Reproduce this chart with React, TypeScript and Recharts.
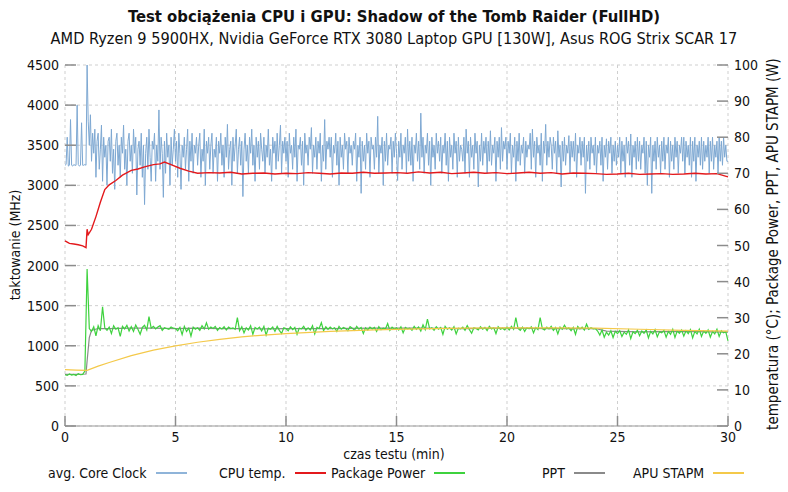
import React from 'react';
import { LineChart, Line, XAxis, YAxis, CartesianGrid } from 'recharts';

// avg. Core Clock (MHz), one sample every 0.05 min (20 per row = 1 min)
const coreClock: number[] = [
  3250, 3260, 3600, 3240, 3250, 3820, 3250, 3240, 3260, 3250, 3250, 4000, 3260, 3240, 3250, 3780, 3250, 3250, 3260, 3250,
  4500, 3800, 3500, 3880, 3300, 3650, 3400, 3700, 3100, 3550, 3650, 3200, 3450, 3750, 3050, 3600, 3350, 3500, 3000, 3550,
  3600, 3300, 3700, 3150, 3450, 2950, 3550, 3650, 3250, 3500, 3100, 3600, 3400, 3750, 3200, 3450, 3000, 3550, 3650, 3300,
  3500, 3150, 3700, 3400, 3600, 2880, 3450, 3550, 3250, 3650, 3100, 3500, 2760, 3400, 3600, 3200, 3700, 3350, 3050, 3550,
  3450, 3650, 3050, 3500, 3300, 3940, 3200, 3600, 3400, 2850, 3550, 3150, 3650, 3350, 3500, 3000, 3600, 3250, 3450, 3700,
  3300, 3550, 3100, 3650, 3400, 2950, 3500, 3350, 3600, 3200, 3450, 3700, 3050, 3550, 3300, 3650, 3150, 3500, 3400, 3600,
  3250, 3500, 3650, 3100, 3450, 3300, 3700, 3000, 3550, 3400, 3600, 3200, 3500, 3650, 3150, 3450, 3350, 3600, 3050, 3550,
  3400, 3650, 3250, 3500, 3100, 3600, 3350, 3760, 3200, 3450, 3550, 3000, 3600, 3300, 3500, 3700, 3150, 3450, 3600, 3250,
  3550, 2860, 3450, 3650, 3300, 3500, 3150, 3600, 3400, 3700, 3250, 3500, 3050, 3600, 3350, 3550, 3200, 3650, 3450, 3300,
  3600, 3150, 3500, 3350, 3700, 3250, 3450, 3050, 3600, 3400, 3550, 3200, 3650, 3300, 3500, 3750, 3150, 3550, 3400, 3600,
  3300, 3550, 3100, 3650, 3400, 3500, 3200, 3600, 3350, 3700, 3050, 3500, 3450, 3600, 3250, 3550, 3000, 3650, 3400, 3500,
  3250, 3600, 3450, 3720, 3150, 3500, 3350, 3600, 3200, 3550, 3400, 3650, 3050, 3500, 3300, 3820, 3200, 3550, 3450, 3600,
  3350, 3600, 3100, 3500, 3400, 3650, 3250, 3550, 3000, 3600, 3350, 3500, 3200, 3650, 3450, 3550, 3150, 3600, 3400, 3500,
  3250, 3550, 3450, 3650, 3050, 3500, 3350, 3600, 2900, 3550, 3300, 3500, 3200, 3650, 3400, 3550, 3100, 3600, 3450, 3500,
  3200, 3600, 3350, 3860, 3150, 3500, 3400, 3600, 3000, 3550, 3300, 3650, 3250, 3500, 3450, 3600, 3150, 3550, 3350, 3650,
  3400, 3060, 3550, 3350, 3650, 3200, 3500, 3400, 3600, 3150, 3700, 3300, 3550, 3250, 3600, 3050, 3500, 3400, 3650, 3300,
  3550, 3200, 3900, 3350, 3600, 3150, 3500, 3400, 3650, 3250, 3550, 3000, 3600, 3350, 3500, 3200, 3650, 3400, 3550, 3300,
  3600, 3150, 3500, 3400, 3650, 3250, 3550, 3050, 3600, 3350, 3500, 3200, 3650, 3400, 3550, 3100, 3600, 3300, 3500, 3450,
  3300, 3600, 3150, 3700, 3400, 3550, 3100, 3600, 3350, 3500, 3200, 3650, 3400, 3550, 2980, 3500, 3300, 3650, 3250, 3550,
  3400, 3600, 3150, 3550, 3300, 3680, 3250, 3500, 3400, 3600, 3050, 3550, 3350, 3600, 3200, 3720, 3300, 3550, 3450, 3600,
  3200, 3550, 3400, 3650, 3150, 3500, 3350, 3600, 3050, 3550, 3300, 3650, 3250, 3500, 3400, 3600, 3150, 3550, 3350, 3500,
  3450, 3650, 3200, 3700, 3350, 3550, 3100, 3600, 3400, 3500, 3250, 3650, 3050, 3550, 3400, 3760, 3250, 3550, 3350, 3600,
  3500, 3200, 3600, 3400, 3550, 3150, 3680, 3350, 3500, 2980, 3550, 3300, 3600, 3250, 3500, 3400, 3620, 3150, 3550, 3350,
  3550, 3300, 3650, 3100, 3500, 3400, 3600, 3250, 3550, 3350, 3600, 2900, 3500, 3300, 3550, 3200, 3600, 3400, 3500, 3250,
  3600, 3150, 3500, 3400, 3550, 3250, 3600, 3050, 3500, 3350, 3580, 3200, 3550, 3400, 3600, 3150, 3500, 3300, 3550, 3250,
  3500, 3350, 3600, 3150, 3550, 3300, 3500, 3100, 3600, 3400, 3550, 3250, 3640, 3100, 3500, 3350, 3550, 3200, 3600, 3300,
  3550, 3200, 3500, 3400, 3600, 3150, 3550, 3000, 3500, 3350, 3600, 2900, 3500, 3300, 3550, 3200, 3600, 3350, 3500, 3150,
  3550, 3300, 3600, 3200, 3500, 3400, 3600, 3100, 3550, 3300, 3500, 3200, 3600, 3350, 3550, 3150, 3500, 3400, 3600, 3300,
  3600, 3150, 3550, 3350, 3500, 3250, 3600, 3100, 3550, 3300, 3600, 3050, 3500, 3350, 3550, 3250, 3600, 3200, 3550, 3300,
  3500, 3350, 3600, 3150, 3550, 3300, 3600, 3200, 3500, 3350, 3550, 3150, 3600, 3300, 3550, 3250, 3600, 3350, 3500, 3300,
  3300,
];

// Package Power (W), one sample every 0.1 min
const packagePower: number[] = [
  14.2, 14.0, 14.4, 14.1, 14.3, 14.0, 14.5, 14.2, 14.3, 15.2,
  43.5, 27.0, 26.2, 27.5, 25.0, 27.8, 26.4, 33.0, 27.2, 26.5,
  27.4, 25.6, 27.8, 26.8, 27.2, 24.8, 27.6, 26.9, 27.9, 26.3,
  27.5, 26.2, 28.0, 26.8, 25.4, 27.3, 27.9, 26.6, 30.3, 27.1,
  27.6, 26.9, 27.4, 27.8, 26.5, 27.2, 27.0, 26.8, 27.4, 27.1,
  27.0, 26.4, 27.3, 25.3, 27.6, 26.2, 27.1, 24.9, 27.4, 26.8,
  27.2, 26.5, 27.8, 26.9, 28.6, 26.8, 27.4, 27.0, 27.6, 26.5,
  27.3, 26.9, 27.5, 26.6, 27.4, 27.0, 27.2, 26.8, 30.0, 26.4,
  27.5, 25.8, 27.2, 26.6, 27.8, 25.4, 27.3, 26.9, 27.4, 26.3,
  27.6, 25.2, 27.1, 26.8, 27.4, 26.2, 27.6, 26.5, 25.6, 27.2,
  27.0, 26.4, 27.5, 26.7, 27.3, 25.4, 27.1, 26.9, 27.6, 26.5,
  27.2, 26.6, 27.8, 25.5, 27.3, 27.0, 28.6, 26.4, 27.5, 26.8,
  27.4, 26.9, 27.2, 26.2, 27.6, 26.8, 27.3, 27.0, 26.4, 27.5,
  27.1, 26.5, 27.6, 26.8, 27.3, 25.6, 27.2, 26.6, 27.4, 26.9,
  27.3, 26.2, 27.5, 26.7, 27.1, 26.9, 28.4, 26.5, 27.4, 26.8,
  27.2, 26.6, 27.5, 25.8, 27.3, 26.9, 27.1, 26.5, 27.6, 26.8,
  27.4, 26.3, 28.0, 26.7, 29.6, 26.9, 27.2, 26.5, 27.5, 26.8,
  27.3, 25.4, 27.6, 26.8, 27.2, 26.6, 27.5, 25.5, 27.1, 26.9,
  27.4, 26.5, 27.8, 26.7, 25.7, 27.2, 27.0, 26.6, 27.5, 26.8,
  27.3, 26.4, 27.6, 26.9, 27.2, 25.6, 27.5, 26.8, 27.1, 26.6,
  27.4, 26.6, 27.6, 26.8, 30.0, 27.0, 26.5, 27.4, 26.2, 27.2,
  26.9, 27.5, 25.8, 27.3, 26.7, 30.0, 27.0, 26.6, 27.4, 26.9,
  27.6, 26.5, 27.3, 25.5, 27.4, 26.8, 27.9, 26.9, 27.2, 26.4,
  27.3, 25.4, 27.6, 26.9, 27.4, 26.6, 28.2, 26.8, 27.2, 26.9,
  27.0, 26.3, 25.2, 26.6, 24.6, 26.0, 25.2, 26.4, 24.5, 26.2,
  25.6, 26.4, 24.8, 26.0, 25.4, 26.6, 24.2, 26.1, 25.6, 26.5,
  25.0, 26.3, 25.7, 26.6, 24.4, 26.2, 25.5, 26.7, 24.7, 26.1,
  25.8, 26.5, 24.6, 26.2, 25.4, 26.8, 24.5, 26.3, 25.7, 26.6,
  24.9, 26.4, 25.6, 26.7, 24.4, 26.2, 25.5, 26.8, 24.8, 26.3,
  25.7, 26.6, 24.6, 26.2, 25.5, 26.8, 24.8, 26.4, 25.8, 26.1,
  23.6,
];

// CPU temp. (°C)
const tempTimes: number[] = [
  0, 0.2, 0.4, 0.6, 0.8, 0.95, 1.0, 1.05, 1.2, 1.4, 1.6, 1.8, 2.0, 2.3, 2.6, 3.0,
  3.3, 3.6, 4.0, 4.3, 4.5, 4.8, 5.2, 5.6, 6.0, 6.5, 7.0, 7.5, 8.0, 8.5, 9.0, 9.5,
  10, 10.5, 11, 11.5, 12, 12.5, 13, 13.5, 14, 14.5, 15, 15.5, 16, 16.5, 17, 17.5,
  18, 18.5, 19, 19.5, 20, 20.5, 21, 21.5, 22, 22.5, 23, 23.5, 24, 24.5, 25, 25.5,
  26, 26.5, 27, 27.5, 28, 28.5, 29, 29.5, 30,
];
const cpuTemp: number[] = [
  51.3, 50.6, 50.4, 50.2, 49.9, 49.4, 54.5, 53.0, 54.5, 58.0, 62.0, 65.5, 66.8, 68.0, 69.5, 70.8,
  71.2, 71.8, 72.4, 72.6, 73.1, 72.4, 71.4, 70.6, 70.0, 70.2, 70.1, 70.3, 69.8, 70.0, 70.1, 69.8,
  70.0, 69.9, 70.2, 70.0, 69.8, 70.1, 70.0, 70.3, 70.0, 70.1, 70.2, 70.0, 70.4, 70.1, 70.3, 69.9,
  70.1, 70.3, 70.0, 70.2, 69.9, 70.1, 70.3, 70.0, 70.2, 69.8, 70.1, 70.0, 69.9, 69.7, 69.8, 70.0,
  69.7, 69.8, 69.9, 69.7, 69.8, 70.0, 69.8, 69.9, 69.0,
];

// PPT (W)
const pptTimes: number[] = [
  0, 0.5, 0.95, 1.0, 1.1, 1.2, 1.5, 2, 3, 4, 5, 6, 7, 8, 9, 10, 12, 14, 16, 18, 20, 22, 24, 24.5, 26, 28, 30,
];
const ppt: number[] = [
  14.3, 14.3, 14.4, 18.0, 24.5, 26.5, 27.0, 27.0, 27.1, 27.1, 27.0, 27.1, 27.0, 27.0, 26.9, 27.0,
  27.0, 27.1, 27.1, 27.0, 27.1, 27.0, 27.0, 26.3, 26.1, 26.2, 26.0,
];

// APU STAPM (W)
const stapmTimes: number[] = [
  0, 0.5, 1.0, 1.5, 2, 3, 4, 5, 6, 7, 8, 9, 10, 12, 14, 16, 18, 20, 22, 24, 26, 28, 30,
];
const apuStapm: number[] = [
  15.6, 15.5, 15.4, 16.6, 17.6, 19.5, 21.0, 22.2, 23.2, 24.0, 24.7, 25.2, 25.6, 26.2, 26.6, 26.9,
  27.1, 27.2, 27.2, 27.1, 26.8, 26.5, 26.3,
];

const xTicks = [0, 5, 10, 15, 20, 25, 30];
const leftTicks = [0, 500, 1000, 1500, 2000, 2500, 3000, 3500, 4000, 4500];
const rightTicks = [0, 10, 20, 30, 40, 50, 60, 70, 80, 90, 100];

const clockData = coreClock.map((v, i) => ({ t: i / 20, clock: v }));
const powerData = packagePower.map((v, i) => ({ t: i / 10, power: v }));
const tempData = tempTimes.map((t, i) => ({ t, temp: cpuTemp[i] }));
const pptData = pptTimes.map((t, i) => ({ t, ppt: ppt[i] }));
const stapmData = stapmTimes.map((t, i) => ({ t, stapm: apuStapm[i] }));

const FONT = '"DejaVu Sans Condensed", "DejaVu Sans", sans-serif';
const TICK_COLOR = '#8c8c8c';

const LeftTick = (props: any) => {
  const { x, y, payload } = props;
  return (
    <g>
      <line x1={x + 6} x2={x + 17} y1={y} y2={y} stroke={TICK_COLOR} strokeWidth={1.5} />
      <text x={x} y={y} dy={5} textAnchor="end" fontSize={14} fill="#111" fontFamily={FONT}>
        {payload.value}
      </text>
    </g>
  );
};

const RightTick = (props: any) => {
  const { x, y, payload } = props;
  return (
    <g>
      <line x1={x - 6} x2={x - 17} y1={y} y2={y} stroke={TICK_COLOR} strokeWidth={1.5} />
      <text x={x} y={y} dy={5} textAnchor="start" fontSize={14} fill="#111" fontFamily={FONT}>
        {payload.value}
      </text>
    </g>
  );
};

const BottomTick = (props: any) => {
  const { x, y, payload } = props;
  return (
    <g>
      <line x1={x} x2={x} y1={y - 2} y2={y - 12} stroke={TICK_COLOR} strokeWidth={1.5} />
      <text x={x} y={y} dy={14} textAnchor="middle" fontSize={14} fill="#111" fontFamily={FONT}>
        {payload.value}
      </text>
    </g>
  );
};

const legendItems = [
  { name: 'avg. Core Clock', color: '#8fb4d9', left: 48 },
  { name: 'CPU temp.', color: '#e3191c', left: 219 },
  { name: 'Package Power', color: '#3ed23e', left: 331 },
  { name: 'PPT', color: '#8a8a8a', left: 542 },
  { name: 'APU STAPM', color: '#f4c94a', left: 633 },
];

export default function App() {
  return (
    <div
      style={{
        position: 'absolute',
        left: 0,
        top: 0,
        width: 788,
        height: 492,
        background: '#fff',
        fontFamily: FONT,
        color: '#111',
      }}
    >
      <div style={{ position: 'absolute', top: 7, width: 788, textAlign: 'center', fontSize: 16.5, fontWeight: 'bold' }}>
        Test obciążenia CPU i GPU: Shadow of the Tomb Raider (FullHD)
      </div>
      <div style={{ position: 'absolute', top: 29, width: 788, textAlign: 'center', fontSize: 16.2 }}>
        AMD Ryzen 9 5900HX, Nvidia GeForce RTX 3080 Laptop GPU [130W], Asus ROG Strix SCAR 17
      </div>

      <LineChart
        width={788}
        height={492}
        margin={{ top: 65, right: 15, bottom: 41, left: 15 }}
        style={{ position: 'absolute', left: 0, top: 0 }}
      >
        <CartesianGrid stroke="#cfcfcf" strokeDasharray="3 3" yAxisId="left" />
        <XAxis
          dataKey="t"
          type="number"
          domain={[0, 30]}
          ticks={xTicks}
          allowDuplicatedCategory={false}
          stroke="#999"
          tickLine={false}
          tickSize={0}
          tickMargin={2}
          height={25}
          tick={<BottomTick />}
        />
        <YAxis
          yAxisId="left"
          domain={[0, 4500]}
          ticks={leftTicks}
          axisLine={false}
          tickLine={false}
          tickSize={0}
          tickMargin={6}
          width={50}
          allowDataOverflow
          tick={<LeftTick />}
        />
        <YAxis
          yAxisId="right"
          orientation="right"
          domain={[0, 100]}
          ticks={rightTicks}
          axisLine={false}
          tickLine={false}
          tickSize={0}
          tickMargin={6}
          width={45}
          allowDataOverflow
          tick={<RightTick />}
        />
        <Line
          yAxisId="left"
          data={clockData}
          dataKey="clock"
          stroke="#7ea8d2"
          strokeWidth={1}
          dot={false}
          isAnimationActive={false}
        />
        <Line
          yAxisId="right"
          data={tempData}
          dataKey="temp"
          stroke="#e3191c"
          strokeWidth={1.4}
          dot={false}
          isAnimationActive={false}
        />
        <Line
          yAxisId="right"
          data={pptData}
          dataKey="ppt"
          stroke="#8a8a8a"
          strokeWidth={1.2}
          dot={false}
          isAnimationActive={false}
        />
        <Line
          yAxisId="right"
          data={powerData}
          dataKey="power"
          stroke="#3ed23e"
          strokeWidth={1.2}
          dot={false}
          isAnimationActive={false}
        />
        <Line
          yAxisId="right"
          data={stapmData}
          dataKey="stapm"
          stroke="#f4c94a"
          strokeWidth={1.2}
          dot={false}
          isAnimationActive={false}
        />
      </LineChart>

      <div
        style={{
          position: 'absolute',
          left: 15,
          top: 245,
          fontSize: 14,
          whiteSpace: 'nowrap',
          transform: 'translate(-50%, -50%) rotate(-90deg)',
        }}
      >
        taktowanie (MHz)
      </div>
      <div
        style={{
          position: 'absolute',
          left: 773,
          top: 244,
          fontSize: 15,
          whiteSpace: 'nowrap',
          transform: 'translate(-50%, -50%) rotate(-90deg)',
        }}
      >
        temperatura (°C); Package Power, PPT, APU STAPM (W)
      </div>
      <div style={{ position: 'absolute', top: 446, width: 788, textAlign: 'center', fontSize: 14 }}>
        czas testu (min)
      </div>

      {legendItems.map((item) => (
        <div
          key={item.name}
          style={{
            position: 'absolute',
            left: item.left,
            top: 465,
            fontSize: 14,
            whiteSpace: 'nowrap',
            display: 'flex',
            alignItems: 'center',
          }}
        >
          <span>{item.name}</span>
          <span
            style={{
              display: 'inline-block',
              width: 31,
              height: 1.5,
              background: item.color,
              marginLeft: 9,
            }}
          />
        </div>
      ))}
    </div>
  );
}
